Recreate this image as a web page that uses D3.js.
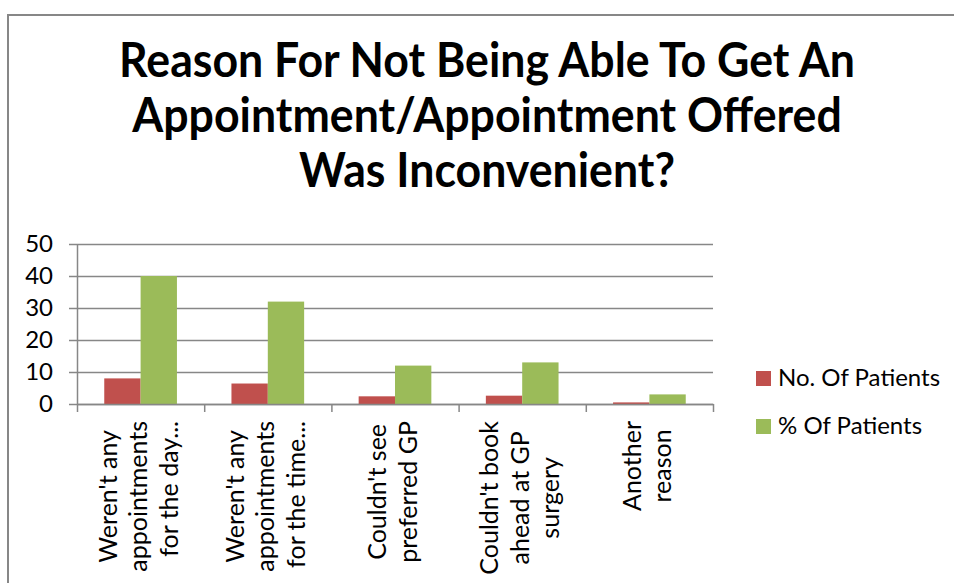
<!DOCTYPE html>
<html><head><meta charset="utf-8">
<script src="https://cdn.jsdelivr.net/npm/d3@7"></script>
<style>
body{margin:0;background:#fff}
svg{display:block}
text{font-family:Lato,"Open Sans",sans-serif;fill:#000}
</style>
</head><body>
<svg id="c" width="954" height="583"></svg>
<script>
// ---- data ----
const titleLines = ["Reason For Not Being Able To Get An", "Appointment/Appointment Offered", "Was Inconvenient?"];
const categories = ["day", "time", "preferred", "ahead", "another"];
const categoryLabels = [
  ["Weren't any", "appointments", "for the day..."],
  ["Weren't any", "appointments", "for the time..."],
  ["Couldn't see", "preferred GP"],
  ["Couldn't book", "ahead at GP", "surgery"],
  ["Another", "reason"]
];
const seriesNames = ["No. Of Patients", "% Of Patients"];
const noOfPatients = [8, 6.4, 2.4, 2.6, 0.5];
const pctOfPatients = [40, 32, 12, 13, 3];
const yTicks = [0, 10, 20, 30, 40, 50];
const seriesColors = ["#C0504D", "#9BBB59"];

// ---- layout ----
const svg = d3.select("#c");
const L = 77, R = 713, T = 244, B = 404;
const gridCol = "#878787";
const labelSize = 24, catSize = 25;

svg.append("rect").attr("x", 8).attr("y", 15).attr("width", 1200).attr("height", 1200)
  .attr("fill", "none").attr("stroke", gridCol).attr("stroke-width", 2);

// title (slightly condensed to mimic the original narrow bold face)
svg.append("g").selectAll("text").data(titleLines).join("text")
  .attr("x", 487).attr("y", (d, i) => 77 + i * 55)
  .attr("text-anchor", "middle").attr("font-weight", 700).attr("font-size", 47)
  .text(d => d)
  .each(function () {
    const w = this.getComputedTextLength();
    d3.select(this).attr("textLength", w * 0.95).attr("lengthAdjust", "spacingAndGlyphs");
  });

const x = d3.scaleBand().domain(categories).range([L, R]).padding(0);
const x1 = d3.scaleBand().domain(seriesNames).range([0, x.bandwidth()]).paddingInner(0).paddingOuter(0.75);
const y = d3.scaleLinear().domain([0, 50]).range([B, T]);
const xEdge = d3.scaleLinear().domain([0, categories.length]).range([L, R]);

// gridlines
const grid = svg.append("g").attr("transform", `translate(${L},0)`)
  .call(d3.axisLeft(y).tickValues(yTicks).tickSize(-(R - L)).tickFormat(""));
grid.select(".domain").remove();
grid.selectAll("line").attr("stroke", gridCol).attr("stroke-width", 1.5);

// bars
const data = categories.map((c, i) => ({c, vals: [noOfPatients[i], pctOfPatients[i]]}));
svg.append("g").selectAll("g").data(data).join("g")
  .attr("transform", d => `translate(${x(d.c)},0)`)
  .selectAll("rect").data(d => d.vals.map((v, k) => ({v, s: seriesNames[k], k}))).join("rect")
  .attr("x", d => x1(d.s)).attr("width", x1.bandwidth())
  .attr("y", d => y(d.v)).attr("height", d => y(0) - y(d.v))
  .attr("fill", d => seriesColors[d.k]);

// y axis
const ya = svg.append("g").attr("transform", `translate(${L},0)`)
  .call(d3.axisLeft(y).tickValues(yTicks).tickSize(8).tickSizeOuter(0).tickPadding(16));
ya.select(".domain").attr("stroke", gridCol).attr("stroke-width", 1.5);
ya.selectAll("line").attr("stroke", gridCol).attr("stroke-width", 1.5);
ya.selectAll("text").attr("font-size", labelSize).attr("font-family", "Lato").attr("fill", "#000");

// x axis
const xa = svg.append("g").attr("transform", `translate(0,${B})`)
  .call(d3.axisBottom(xEdge).tickValues(d3.range(categories.length + 1)).tickSize(8).tickSizeOuter(0).tickFormat(""));
xa.select(".domain").attr("stroke", gridCol).attr("stroke-width", 1.5);
xa.selectAll("line").attr("stroke", gridCol).attr("stroke-width", 1.5);

// category labels (rotated)
const labTop = 421, pitch = 30.5;
categories.forEach((c, i) => {
  const lines = categoryLabels[i];
  const cx = x(c) + x.bandwidth() / 2;
  const n = lines.length;
  const g = svg.append("g");
  const texts = g.selectAll("text").data(lines).join("text")
    .attr("font-size", catSize).text(d => d);
  let maxLen = 0;
  texts.each(function (d) { if (!d.endsWith("...")) maxLen = Math.max(maxLen, this.getComputedTextLength()); });
  const yc = labTop + maxLen / 2;
  texts.each(function (d, j) {
    const bx = cx + 6.5 + (j - (n - 1) / 2) * pitch;
    const trunc = d.endsWith("...");
    d3.select(this)
      .attr("text-anchor", trunc ? "end" : "middle")
      .attr("transform", `translate(${bx},${trunc ? labTop : yc}) rotate(-90)`);
  });
});

// legend
const lg = svg.append("g").selectAll("g").data(seriesNames).join("g")
  .attr("transform", (d, i) => `translate(756,${371 + i * 48})`);
lg.append("rect").attr("width", 15).attr("height", 15).attr("fill", (d, i) => seriesColors[i]);
lg.append("text").attr("x", 22).attr("y", 15).attr("font-size", labelSize).text(d => d);
</script>
</body></html>
